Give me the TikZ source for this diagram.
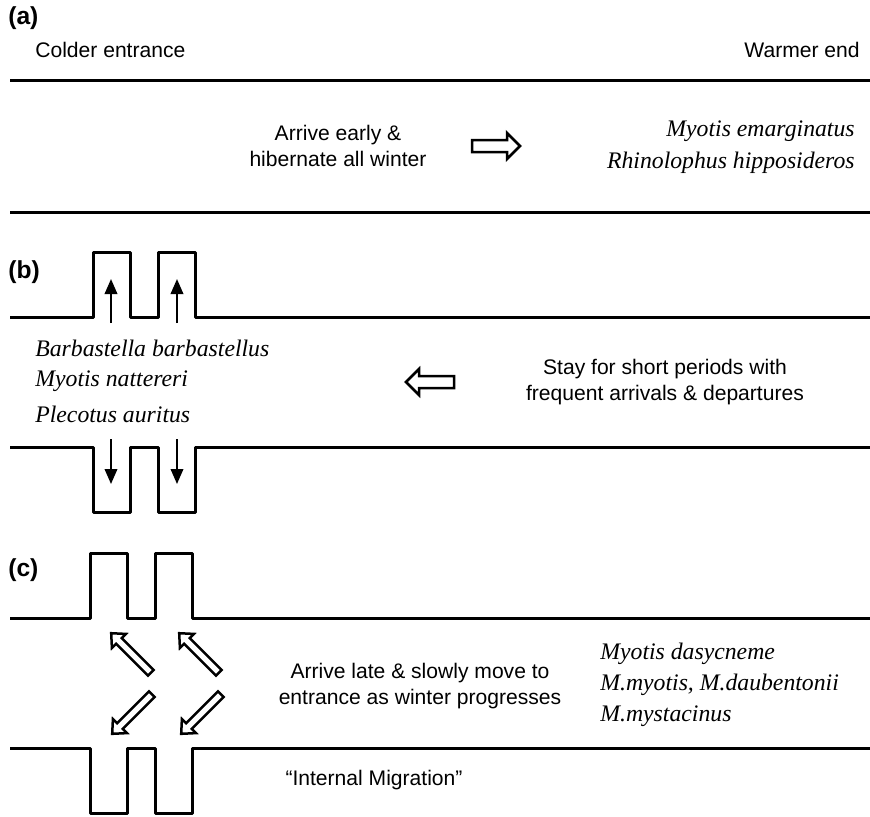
\documentclass[tikz,border=0pt]{standalone}
\usepackage{fontspec}
\setmainfont{Liberation Serif}
\setsansfont{Liberation Sans}
\usetikzlibrary{arrows.meta}
\tikzset{
  wall/.style={line width=0.6mm, line join=round},
  lbl/.style={font=\sffamily\fontsize{12}{15}\selectfont, align=center, inner sep=0pt},
  head/.style={font=\sffamily\bfseries\fontsize{14}{16}\selectfont, inner sep=0pt},
  bat/.style={font=\itshape\fontsize{13.5}{18}\selectfont, inner sep=0pt},
  thinarrow/.style={line width=0.4mm, -{Triangle[length=3mm,width=2.5mm]}},
  bigarrow/.pic={
    \draw[line width=0.5mm, line join=miter]
      (-24,-6) -- (11,-6) -- (11,-13) -- (24,0) -- (11,13) -- (11,6) -- (-24,6) -- cycle;},
  smallarrow/.pic={
    \draw[line width=0.5mm, line join=miter]
      (-28,-4) -- (17,-4) -- (17,-10) -- (28,0) -- (17,10) -- (17,4) -- (-28,4) -- cycle;}
}
\begin{document}
\begin{tikzpicture}[x=0.2mm,y=-0.2mm]
\useasboundingbox (0,0) rectangle (870,816);
% (a)
\node[head, anchor=west] (la) at(8,18) {(a)};
\node[lbl, anchor=west] (cold) at(35,50) {Colder entrance};
\node[lbl, anchor=east] (warm) at(860,50) {Warmer end};
\draw[wall] (10,80) -- (870,80);
\draw[wall] (10,212) -- (870,212);
\node[lbl] (early) at(338,146) {Arrive early \&\\hibernate all winter};
\pic (arra) at(496,146) {bigarrow};
\node[bat, anchor=east] (me) at(855,131) {Myotis emarginatus};
\node[bat, anchor=east] (rh) at(855,163) {Rhinolophus hipposideros};
% (b)
\node[head, anchor=west] (lb) at(8,272) {(b)};
\draw[wall] (10,317) -- (93,317) -- (93,252) -- (130,252) -- (130,317) -- (158,317)
  -- (158,252) -- (195,252) -- (195,317) -- (870,317);
\draw[wall] (10,447) -- (93,447) -- (93,512) -- (130,512) -- (130,447) -- (158,447)
  -- (158,512) -- (195,512) -- (195,447) -- (870,447);
\coordinate (u1) at(111,323); \coordinate (u1t) at(111,279);
\coordinate (u2) at(177,323); \coordinate (u2t) at(177,279);
\coordinate (d1) at(111,439); \coordinate (d1t) at(111,484);
\coordinate (d2) at(177,439); \coordinate (d2t) at(177,484);
\draw[thinarrow] (u1) -- (u1t);
\draw[thinarrow] (u2) -- (u2t);
\draw[thinarrow] (d1) -- (d1t);
\draw[thinarrow] (d2) -- (d2t);
\node[bat, anchor=west] (bb) at(35,348) {Barbastella barbastellus};
\node[bat, anchor=west] (mn) at(35,381) {Myotis nattereri};
\node[bat, anchor=west] (pa) at(35,414) {Plecotus auritus};
\pic[rotate=180] (arrb) at(430,382) {bigarrow};
\node[lbl] (stay) at(665,382) {Stay for short periods with\\frequent arrivals \& departures};
% (c)
\node[head, anchor=west] (lc) at(8,570) {(c)};
\draw[wall] (10,618) -- (90,618) -- (90,553) -- (127,553) -- (127,618) -- (155,618)
  -- (155,553) -- (192,553) -- (192,618) -- (870,618);
\draw[wall] (10,748) -- (90,748) -- (90,813) -- (127,813) -- (127,748) -- (155,748)
  -- (155,813) -- (192,813) -- (192,748) -- (870,748);
\pic[rotate=135] (ul1) at(131,653) {smallarrow};
\pic[rotate=135] (ul2) at(199,653) {smallarrow};
\pic[rotate=225] (dl1) at(132,714) {smallarrow};
\pic[rotate=225] (dl2) at(201,714) {smallarrow};
\node[lbl] (late) at(420,686) {Arrive late \& slowly move to\\entrance as winter progresses};
\node[bat, anchor=west] (md) at(600,654) {Myotis dasycneme};
\node[bat, anchor=west] (mm) at(600,685) {M.myotis, M.daubentonii};
\node[bat, anchor=west] (ms) at(600,716) {M.mystacinus};
\node[lbl] (intm) at(374,780) {``Internal Migration''};
\end{tikzpicture}
\end{document}
